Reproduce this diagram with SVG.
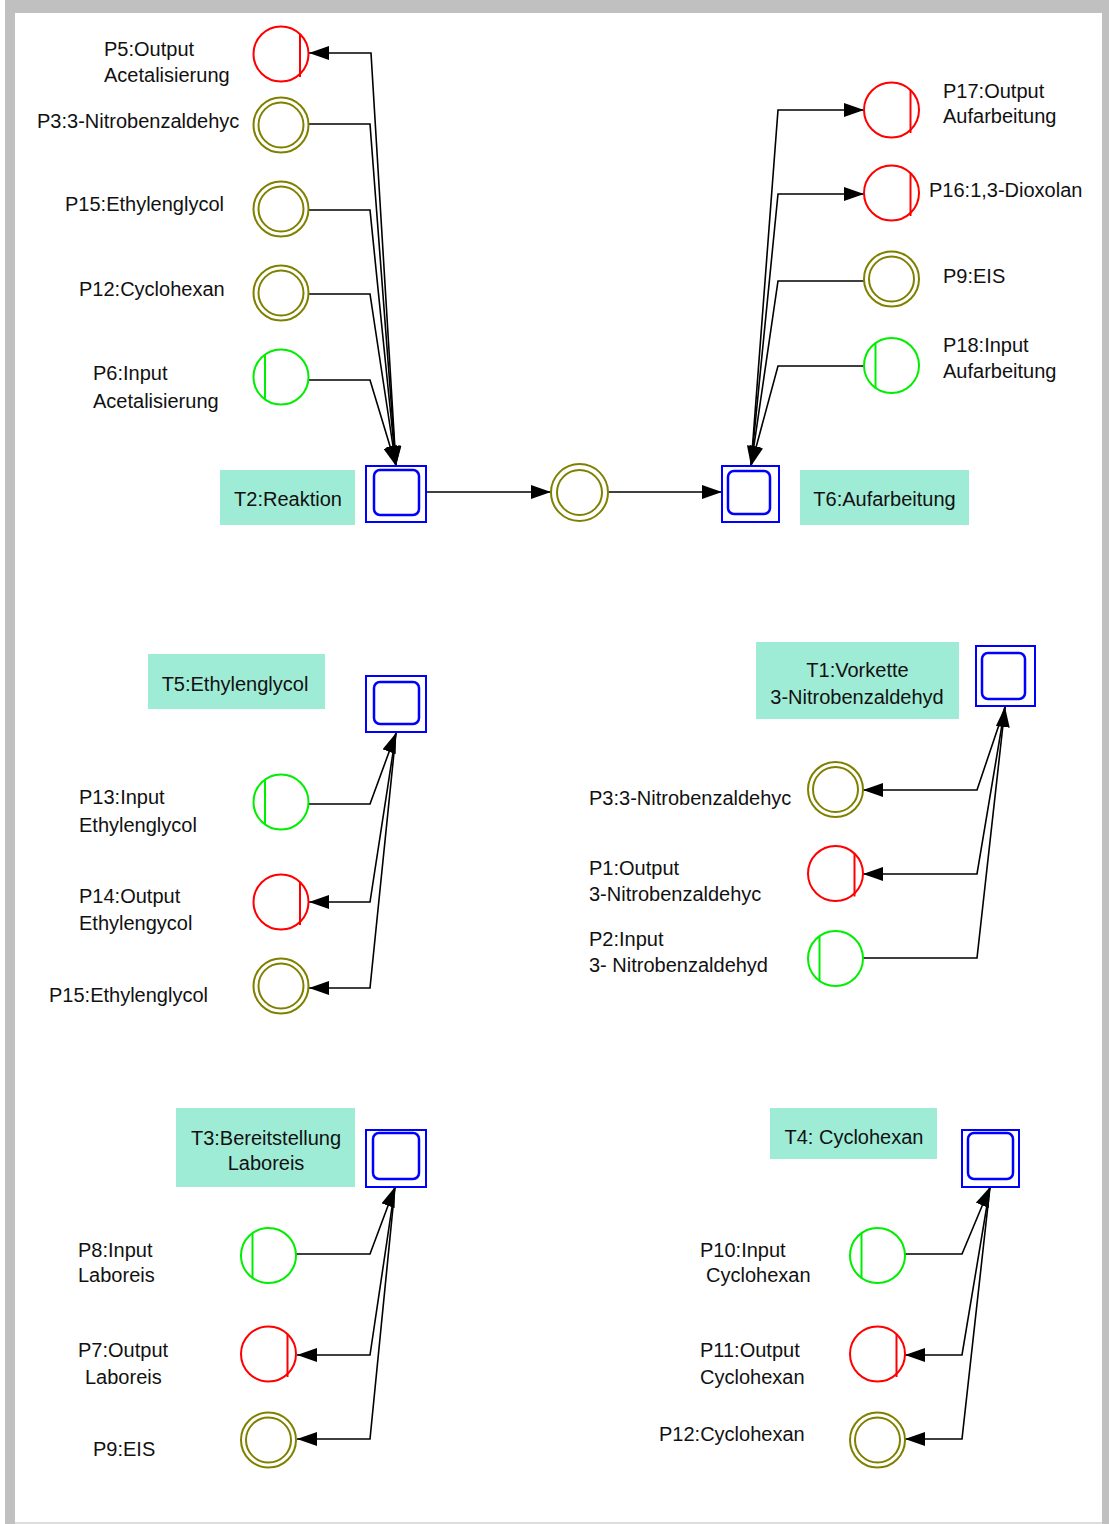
<svg xmlns="http://www.w3.org/2000/svg" width="1109" height="1524" viewBox="0 0 1109 1524">
  <style>
    text { font-family: "Liberation Sans", Arial, sans-serif; font-size: 20px; fill: #111; }
    .mid { text-anchor: middle; }
    .lblbox { fill: #9FECD6; }
    .conn { fill: none; stroke: #000; stroke-width: 1.6; }
    .tr-outer { fill: #fff; stroke: #0000FF; stroke-width: 2; }
    .tr-inner { fill: #fff; stroke: #0000FF; stroke-width: 2.5; }
    .p-out { fill: #fff; stroke: #FF0000; stroke-width: 2; }
    .p-in { fill: #fff; stroke: #00EE00; stroke-width: 2; }
    .p-res { fill: #fff; stroke: #808000; stroke-width: 2; }
  </style>
  <defs>
    <marker id="arrow" markerUnits="userSpaceOnUse" viewBox="0 0 20 14" markerWidth="20" markerHeight="14" refX="20" refY="7" orient="auto">
      <path d="M0,0 L20,7 L0,14 z" fill="#000"/>
    </marker>
    <!-- output place: circle with a bar on the right -->
    <g id="place-out">
      <circle r="27.5" class="p-out"/>
      <line x1="19" y1="-20" x2="19" y2="23" class="p-out"/>
    </g>
    <!-- input place: circle with a bar on the left -->
    <g id="place-in">
      <circle r="27.5" class="p-in"/>
      <line x1="-16" y1="-22" x2="-16" y2="23" class="p-in"/>
    </g>
    <!-- resource place: double circle -->
    <g id="place-res">
      <circle r="27.5" class="p-res"/>
      <circle r="22.5" class="p-res"/>
    </g>
  </defs>

  <!-- page frame -->
  <rect x="0" y="0" width="1109" height="1524" fill="#fff"/>
  <rect x="5" y="0" width="1104" height="13" fill="#C0C0C0"/>
  <rect x="5" y="0" width="10" height="1524" fill="#C0C0C0"/>
  <rect x="1102" y="0" width="7" height="1524" fill="#C0C0C0"/>
  <rect x="15" y="1522" width="1087" height="2" fill="#DDDDDD"/>

  <!-- connectors -->
  <g id="connectors">
    <!-- T2: Reaktion -->
    <path class="conn" d="M396,466 L371,53 L309,53" marker-end="url(#arrow)"/>
    <path class="conn" d="M308,124 L370,124 L396,466" marker-end="url(#arrow)"/>
    <path class="conn" d="M308,210 L370,210 L396,466" marker-end="url(#arrow)"/>
    <path class="conn" d="M308,294 L370,294 L396,466" marker-end="url(#arrow)"/>
    <path class="conn" d="M308,380 L370,380 L396,466" marker-end="url(#arrow)"/>
    <path class="conn" d="M427,492 L551,492" marker-end="url(#arrow)"/>
    <path class="conn" d="M608,492 L722,492" marker-end="url(#arrow)"/>
    <!-- T6: Aufarbeitung -->
    <path class="conn" d="M751,466 L778,110 L864,110" marker-end="url(#arrow)"/>
    <path class="conn" d="M751,466 L778,194 L864,194" marker-end="url(#arrow)"/>
    <path class="conn" d="M864,281 L778,281 L751,466" marker-end="url(#arrow)"/>
    <path class="conn" d="M864,366 L778,366 L751,466" marker-end="url(#arrow)"/>
    <!-- T5: Ethylenglycol -->
    <path class="conn" d="M308,804 L370,804 L396,733" marker-end="url(#arrow)"/>
    <path class="conn" d="M396,733 L370,902 L309,902" marker-end="url(#arrow)"/>
    <path class="conn" d="M396,733 L370,988 L309,988" marker-end="url(#arrow)"/>
    <!-- T1: Vorkette -->
    <path class="conn" d="M1005,707 L977,790 L863,790" marker-end="url(#arrow)"/>
    <path class="conn" d="M1005,707 L977,874 L863,874" marker-end="url(#arrow)"/>
    <path class="conn" d="M863,958 L977,958 L1005,707" marker-end="url(#arrow)"/>
    <!-- T3: Bereitstellung Laboreis -->
    <path class="conn" d="M296,1254 L370,1254 L395,1187" marker-end="url(#arrow)"/>
    <path class="conn" d="M395,1187 L370,1355 L297,1355" marker-end="url(#arrow)"/>
    <path class="conn" d="M395,1187 L370,1439 L297,1439" marker-end="url(#arrow)"/>
    <!-- T4: Cyclohexan -->
    <path class="conn" d="M905,1254 L962,1254 L990,1187" marker-end="url(#arrow)"/>
    <path class="conn" d="M990,1187 L962,1355 L905,1355" marker-end="url(#arrow)"/>
    <path class="conn" d="M990,1187 L962,1439 L905,1439" marker-end="url(#arrow)"/>
  </g>

  <!-- transitions -->
  <g id="T2">
    <rect class="lblbox" x="220" y="470" width="135" height="55"/>
    <text class="mid" x="288" y="506">T2:Reaktion</text>
    <rect class="tr-outer" x="366" y="466" width="60" height="56"/>
    <rect class="tr-inner" x="374" y="470" width="45" height="45" rx="6"/>
  </g>
  <g id="T6">
    <rect class="lblbox" x="800" y="470" width="169" height="55"/>
    <text class="mid" x="884.5" y="506">T6:Aufarbeitung</text>
    <rect class="tr-outer" x="722" y="466" width="57" height="56"/>
    <rect class="tr-inner" x="728" y="471" width="42" height="43" rx="6"/>
  </g>
  <g id="T5">
    <rect class="lblbox" x="148" y="654" width="177" height="55"/>
    <text class="mid" x="235" y="691">T5:Ethylenglycol</text>
    <rect class="tr-outer" x="366" y="676" width="60" height="56"/>
    <rect class="tr-inner" x="374" y="682" width="45" height="42" rx="6"/>
  </g>
  <g id="T1">
    <rect class="lblbox" x="756" y="642" width="203" height="77"/>
    <text class="mid" x="857.5" y="677">T1:Vorkette</text>
    <text class="mid" x="857" y="704">3-Nitrobenzaldehyd</text>
    <rect class="tr-outer" x="976" y="646" width="59" height="60"/>
    <rect class="tr-inner" x="982" y="653" width="43" height="46" rx="6"/>
  </g>
  <g id="T3">
    <rect class="lblbox" x="176" y="1108" width="179" height="79"/>
    <text class="mid" x="266" y="1145">T3:Bereitstellung</text>
    <text class="mid" x="266" y="1170">Laboreis</text>
    <rect class="tr-outer" x="366" y="1130" width="60" height="57"/>
    <rect class="tr-inner" x="373" y="1133" width="46" height="46" rx="6"/>
  </g>
  <g id="T4">
    <rect class="lblbox" x="770" y="1108" width="167" height="51"/>
    <text class="mid" x="854" y="1144">T4: Cyclohexan</text>
    <rect class="tr-outer" x="962" y="1130" width="57" height="57"/>
    <rect class="tr-inner" x="968" y="1133" width="45" height="46" rx="6"/>
  </g>

  <!-- places: Reaktion -->
  <g id="P5a">
    <use href="#place-out" x="281" y="54"/>
    <text x="104" y="56">P5:Output</text>
    <text x="104" y="82">Acetalisierung</text>
  </g>
  <g id="P3a">
    <use href="#place-res" x="281" y="125"/>
    <text x="37" y="128">P3:3-Nitrobenzaldehyc</text>
  </g>
  <g id="P15a">
    <use href="#place-res" x="281" y="209"/>
    <text x="65" y="211">P15:Ethylenglycol</text>
  </g>
  <g id="P12a">
    <use href="#place-res" x="281" y="293"/>
    <text x="79" y="296">P12:Cyclohexan</text>
  </g>
  <g id="P6">
    <use href="#place-in" x="281" y="377"/>
    <text x="93" y="380">P6:Input</text>
    <text x="93" y="408">Acetalisierung</text>
  </g>
  <g id="Pmid">
    <circle cx="579.5" cy="492.5" r="28.5" class="p-res"/>
    <circle cx="579.5" cy="492.5" r="22.5" class="p-res"/>
  </g>

  <!-- places: Aufarbeitung -->
  <g id="P17">
    <use href="#place-out" x="891.5" y="110"/>
    <text x="943" y="98">P17:Output</text>
    <text x="943" y="123">Aufarbeitung</text>
  </g>
  <g id="P16">
    <use href="#place-out" x="891.5" y="193"/>
    <text x="929" y="197">P16:1,3-Dioxolan</text>
  </g>
  <g id="P9a">
    <use href="#place-res" x="891.5" y="279"/>
    <text x="943" y="283">P9:EIS</text>
  </g>
  <g id="P18">
    <use href="#place-in" x="891.5" y="365.5"/>
    <text x="943" y="352">P18:Input</text>
    <text x="943" y="378">Aufarbeitung</text>
  </g>

  <!-- places: Ethylenglycol -->
  <g id="P13">
    <use href="#place-in" x="281" y="802"/>
    <text x="79" y="804">P13:Input</text>
    <text x="79" y="832">Ethylenglycol</text>
  </g>
  <g id="P14">
    <use href="#place-out" x="281" y="902"/>
    <text x="79" y="903">P14:Output</text>
    <text x="79" y="930">Ethylengycol</text>
  </g>
  <g id="P15b">
    <use href="#place-res" x="281" y="986"/>
    <text x="49" y="1002">P15:Ethylenglycol</text>
  </g>

  <!-- places: Vorkette -->
  <g id="P3b">
    <use href="#place-res" x="835.5" y="789.5"/>
    <text x="589" y="805">P3:3-Nitrobenzaldehyc</text>
  </g>
  <g id="P1">
    <use href="#place-out" x="835.5" y="873.5"/>
    <text x="589" y="875">P1:Output</text>
    <text x="589" y="901">3-Nitrobenzaldehyc</text>
  </g>
  <g id="P2">
    <use href="#place-in" x="835.5" y="958.5"/>
    <text x="589" y="946">P2:Input</text>
    <text x="589" y="972">3- Nitrobenzaldehyd</text>
  </g>

  <!-- places: Laboreis -->
  <g id="P8">
    <use href="#place-in" x="268.5" y="1255.5"/>
    <text x="78" y="1257">P8:Input</text>
    <text x="78" y="1282">Laboreis</text>
  </g>
  <g id="P7">
    <use href="#place-out" x="268.5" y="1354"/>
    <text x="78" y="1357">P7:Output</text>
    <text x="85" y="1384">Laboreis</text>
  </g>
  <g id="P9b">
    <use href="#place-res" x="268.5" y="1440"/>
    <text x="93" y="1456">P9:EIS</text>
  </g>

  <!-- places: Cyclohexan -->
  <g id="P10">
    <use href="#place-in" x="877.5" y="1255.5"/>
    <text x="700" y="1257">P10:Input</text>
    <text x="706" y="1282">Cyclohexan</text>
  </g>
  <g id="P11">
    <use href="#place-out" x="877.5" y="1354"/>
    <text x="700" y="1357">P11:Output</text>
    <text x="700" y="1384">Cyclohexan</text>
  </g>
  <g id="P12b">
    <use href="#place-res" x="877.5" y="1440"/>
    <text x="659" y="1441">P12:Cyclohexan</text>
  </g>
</svg>
